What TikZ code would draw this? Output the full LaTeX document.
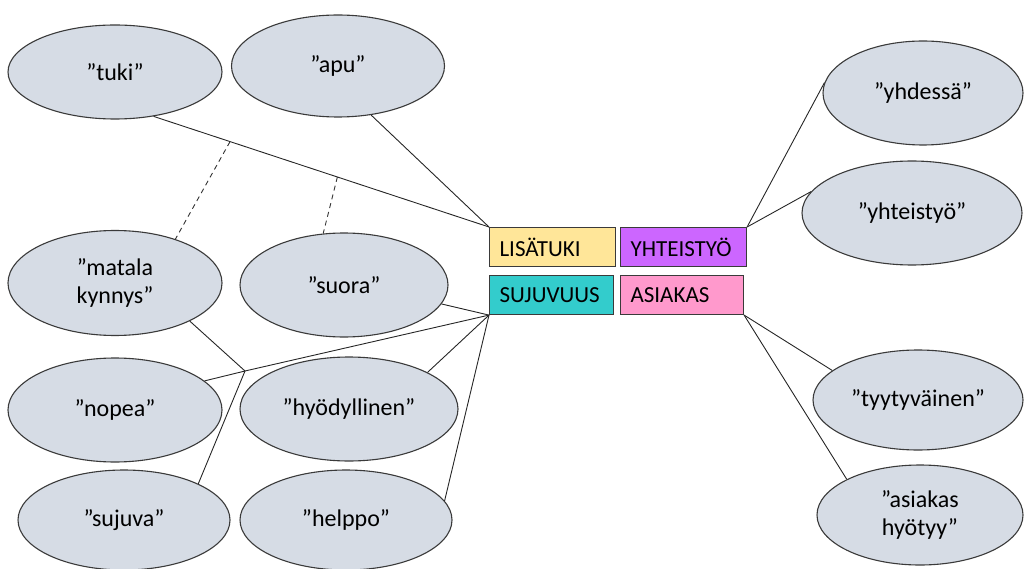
\documentclass[tikz,border=0pt]{standalone}
\usepackage{fontspec}
\setmainfont{Carlito}
\usetikzlibrary{shapes.geometric,calc}
\definecolor{bubblefill}{HTML}{D6DCE5}
\definecolor{edgegray}{HTML}{3A3A3A}
\definecolor{tukicol}{HTML}{FFE699}
\definecolor{yhtcol}{HTML}{CC66FF}
\definecolor{sujcol}{HTML}{33CCCC}
\definecolor{asicol}{HTML}{FF99CC}
\begin{document}
\begin{tikzpicture}[x=1pt,y=-1pt,
  bubble/.style={ellipse, draw=edgegray, line width=1.1pt, fill=bubblefill,
    inner sep=0pt, align=center, font=\fontsize{24}{28}\selectfont},
  tag/.style={draw=edgegray, line width=1.1pt, anchor=north west,
    minimum height=39pt, inner xsep=10pt, inner ysep=0pt, align=left,
    font=\fontsize{23}{27}\selectfont},
  link/.style={draw=black!85, line width=0.9pt},
  hint/.style={draw=black!80, line width=0.9pt, dash pattern=on 5pt off 4pt}]
\useasboundingbox (0,0) rectangle (1024,569);

% category boxes
\node[tag, fill=tukicol, text width=106pt] (lis) at (489,227) {LISÄTUKI};
\node[tag, fill=yhtcol,  text width=106pt] (yht) at (620,227) {YHTEISTYÖ};
\node[tag, fill=sujcol,  text width=104pt] (suj) at (489,275) {SUJUVUUS};
\node[tag, fill=asicol,  text width=103pt] (asi) at (620,275) {ASIAKAS};

% word bubbles, left side
\node[bubble, minimum width=214pt, minimum height=94pt]  (tuki)   at (115,72)  {”tuki”};
\node[bubble, minimum width=213pt, minimum height=102pt] (apu)    at (338,66)  {”apu”};
\node[bubble, minimum width=214pt, minimum height=105pt] (matala) at (115,283) {”matala\\kynnys”};
\node[bubble, minimum width=208pt, minimum height=104pt] (suora)  at (344,285) {”suora”};
\node[bubble, minimum width=214pt, minimum height=104pt] (nopea)  at (115,410) {”nopea”};
\node[bubble, minimum width=218pt, minimum height=104pt] (hyod)   at (349,409) {”hyödyllinen”};
\node[bubble, minimum width=212pt, minimum height=100pt] (sujuva) at (124,520) {”sujuva”};
\node[bubble, minimum width=212pt, minimum height=100pt] (helppo) at (346,520) {”helppo”};

% word bubbles, right side
\node[bubble, minimum width=200pt, minimum height=104pt] (yhdessa) at (923,93)  {”yhdessä”};
\node[bubble, minimum width=220pt, minimum height=104pt] (yhteis)  at (912,213) {”yhteistyö”};
\node[bubble, minimum width=210pt, minimum height=100pt] (tyyt)    at (918,400) {”tyytyväinen”};
\node[bubble, minimum width=206pt, minimum height=100pt] (asiak)   at (920,515) {”asiakas\\hyötyy”};

% LISÄTUKI links
\draw[link] (tuki.-49) -- (lis.north west);
\draw[link] (apu.-56) -- (lis.north west);
\draw[hint] ($(tuki.-49)!0.228!(lis.north west)$) -- (matala.36);
\draw[hint] ($(tuki.-49)!0.548!(lis.north west)$) -- (suora.112);

% SUJUVUUS links
\coordinate (j) at (245,371);
\draw[link] (matala.-27) -- (j);
\draw[link] (nopea.18) -- (j);
\draw[link] (sujuva.26) -- (j);
\draw[link] (j) -- (suj.south west);
\draw[link] (suora.-11) -- (suj.south west);
\draw[link] (hyod.25) -- (suj.south west);
\draw[link] (helppo.11) -- (suj.south west);

% YHTEISTYÖ links
\draw[link] (yht.north east) -- (yhdessa.174);
\draw[link] (yht.north east) -- (yhteis.168);

% ASIAKAS links
\draw[link] (asi.south east) -- (tyyt.161);
\draw[link] (asi.south east) -- (asiak.154);
\end{tikzpicture}
\end{document}
